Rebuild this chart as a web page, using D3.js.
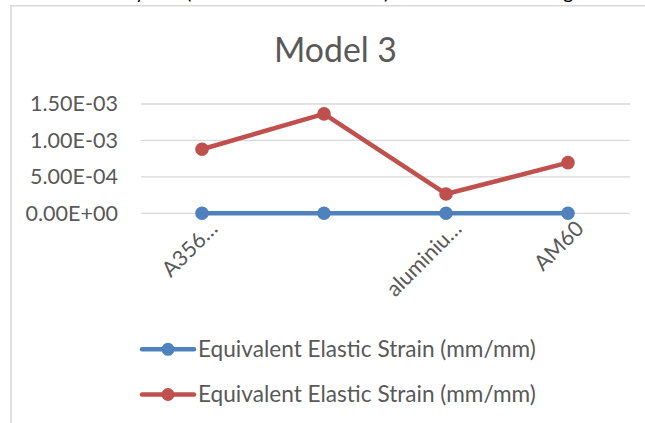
<!DOCTYPE html>
<html>
<head>
<meta charset="utf-8">
<script src="https://cdn.jsdelivr.net/npm/d3@7"></script>
<style>
  html, body { margin: 0; padding: 0; background: #ffffff; }
  svg { display: block; }
  text { font-family: Lato, "Open Sans", sans-serif; }
</style>
</head>
<body>
<svg id="chart" width="645" height="423"></svg>
<script>
// Chart data
const title = "Model 3";
const categories = ["A356…", "", "aluminiu…", "AM60"];
const seriesNames = ["Equivalent Elastic Strain (mm/mm)", "Equivalent Elastic Strain (mm/mm)"];
const seriesBlue = [0, 0, 0, 0];
const seriesRed = [0.000879, 0.001364, 0.000265, 0.000695];
const yTicks = [0, 0.0005, 0.001, 0.0015];
const yTickLabels = ["0.00E+00", "5.00E-04", "1.00E-03", "1.50E-03"];

const colors = ["#4F81BD", "#C0504D"];
const textColor = "#595959";
const gridColor = "#D9D9D9";

const svg = d3.select("#chart");

// Font size that makes a sample string span the given width
function fitSize(sample, width, base = 20) {
  const t = svg.append("text").attr("font-size", base).text(sample);
  const w = t.node().getComputedTextLength();
  t.remove();
  return base * width / w;
}
const titleSize = fitSize(title, 123);
const tickSize = fitSize("1.50E-03", 88);
const legendSize = fitSize(seriesNames[0], 338);
const catSize = fitSize("aluminiu…", 96);

// Fragments of the caption line above the chart (only descenders show)
const caption = svg.append("g").attr("font-family", "'Liberation Serif', serif")
  .attr("font-size", 20).attr("fill", "#000");
caption.append("text").attr("x", 135).attr("y", -1).text("y");
caption.append("text").attr("x", 186).attr("y", -1).text("(");
caption.append("text").attr("x", 384).attr("y", -1).text(")");
caption.append("text").attr("x", 563).attr("y", -1).text("g");

// Chart area border
svg.append("path")
  .attr("d", "M11,430 L11,5.7 L660,5.7")
  .attr("fill", "none").attr("stroke", gridColor).attr("stroke-width", 1.6);

// Title
svg.append("text")
  .attr("x", 335.5).attr("y", 61.5)
  .attr("text-anchor", "middle")
  .attr("font-size", titleSize)
  .attr("fill", textColor)
  .text(title);

// Scales
const x = d3.scaleBand().domain(d3.range(categories.length)).range([141, 629]);
const y = d3.scaleLinear().domain([0, 0.0015]).range([213.3, 104]);

// Gridlines
svg.append("g").selectAll("line").data(yTicks).join("line")
  .attr("x1", 141).attr("x2", 630)
  .attr("y1", d => y(d)).attr("y2", d => y(d))
  .attr("stroke", gridColor).attr("stroke-width", 1.3);

// Y axis labels
const yAxis = d3.axisLeft(y).tickValues(yTicks)
  .tickFormat((d, i) => yTickLabels[i]).tickSize(0).tickPadding(0);
const yg = svg.append("g").attr("transform", "translate(118,0)").call(yAxis);
yg.select(".domain").remove();
yg.selectAll("text").attr("font-size", tickSize).attr("fill", textColor)
  .attr("font-family", "Lato, sans-serif");

// X axis labels (rotated, ending just right of each category)
const cx = i => x(i) + x.bandwidth() / 2;
svg.append("g").selectAll("text").data(categories).join("text")
  .attr("transform", (d, i) => `translate(${cx(i) + 17},${230}) rotate(-45)`)
  .attr("text-anchor", "end")
  .attr("font-size", catSize)
  .attr("fill", textColor)
  .text(d => d);

// Series lines and markers
const line = d3.line().x((d, i) => cx(i)).y(d => y(d));
[seriesBlue, seriesRed].forEach((vals, s) => {
  const g = svg.append("g");
  g.append("path").datum(vals)
    .attr("d", line)
    .attr("fill", "none")
    .attr("stroke", colors[s])
    .attr("stroke-width", 4.5)
    .attr("stroke-linejoin", "round")
    .attr("stroke-linecap", "round");
  g.selectAll("circle").data(vals).join("circle")
    .attr("cx", (d, i) => cx(i))
    .attr("cy", d => y(d))
    .attr("r", 6.8)
    .attr("fill", colors[s]);
});

// Legend
const legendY = [349.3, 394.5];
seriesNames.forEach((name, s) => {
  const g = svg.append("g").attr("transform", `translate(0,${legendY[s]})`);
  g.append("line").attr("x1", 142).attr("x2", 194).attr("y1", 0).attr("y2", 0)
    .attr("stroke", colors[s]).attr("stroke-width", 4.5).attr("stroke-linecap", "round");
  g.append("circle").attr("cx", 168).attr("cy", 0).attr("r", 6.5).attr("fill", colors[s]);
  g.append("text").attr("x", 198).attr("y", 0).attr("dy", "0.35em")
    .attr("font-size", legendSize).attr("fill", textColor).text(name);
});
</script>
</body>
</html>
